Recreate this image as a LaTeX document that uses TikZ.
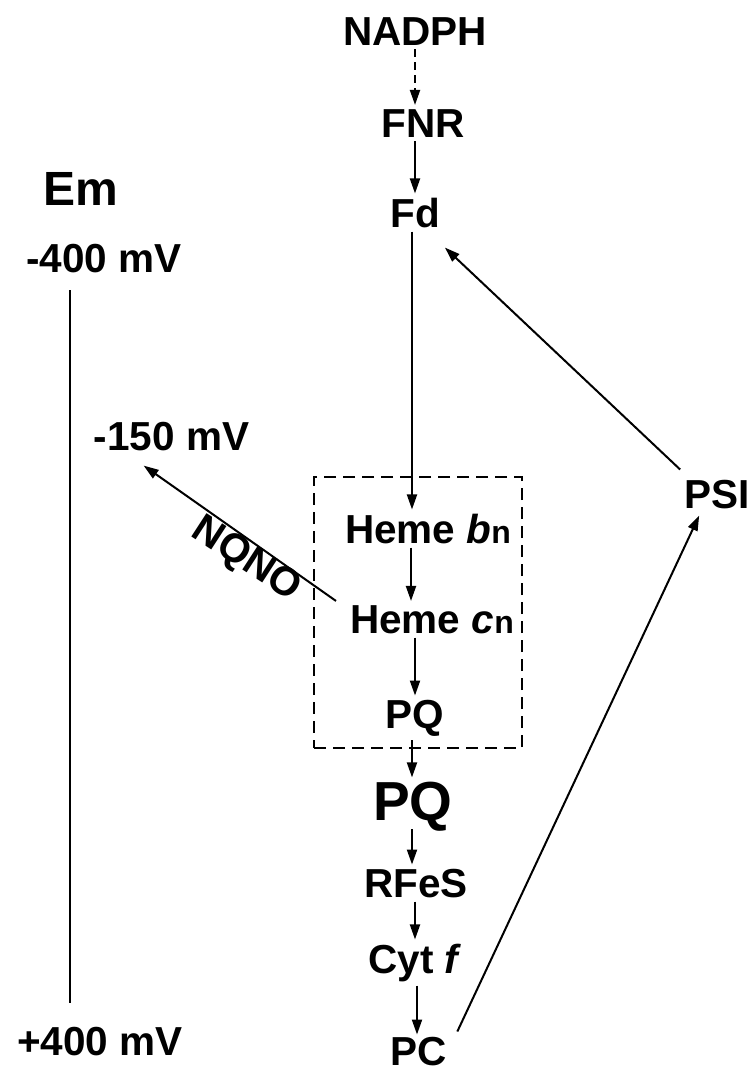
\documentclass[tikz,border=0pt]{standalone}
\usepackage{fontspec}
\setmainfont{Liberation Sans}
\usetikzlibrary{arrows.meta,calc}
\begin{document}
\begin{tikzpicture}[x=1pt,y=-1pt,
  lbl/.style={font=\fontsize{40.5}{40.5}\selectfont\bfseries, inner xsep=0pt, inner ysep=4pt, anchor=base},
  arr/.style={line width=2pt, -{Triangle[length=15pt,width=10pt]}},
  axisline/.style={line width=1.7pt},
  dashbox/.style={draw, line width=1.9pt, dash pattern=on 12pt off 7pt, inner sep=0pt}
  ]
\useasboundingbox (0,0) rectangle (751,1072);
% labels
\node[lbl] (NADPH) at (415,45) {NADPH};
\node[lbl] (FNR) at (423,137) {FNR};
\node[lbl] (Fd) at (415,227) {Fd};
\node[lbl, font=\fontsize{48}{48}\selectfont\bfseries, anchor=base west] (Em) at (43,205) {Em};
\node[lbl] (m400) at (104,272) {-400 mV};
\node[lbl] (m150) at (171.5,450) {-150 mV};
\node[lbl] (p400) at (100,1055) {+400 mV};
\node[lbl] (Hb) at (428,543) {Heme \textit{b}{\fontsize{32}{32}\selectfont n}};
\node[lbl] (Hc) at (432,633) {Heme \textit{c}{\fontsize{32}{32}\selectfont n}};
\node[lbl] (PQs) at (415,728) {PQ};
\node[lbl, font=\fontsize{55}{55}\selectfont\bfseries] (PQ) at (413,820) {PQ};
\node[lbl] (RFeS) at (416,897) {RFeS};
\node[lbl] (Cyt) at (415,973) {Cyt \textit{f}};
\node[lbl, inner ysep=2pt] (PC) at (419,1065) {PC};
\node[lbl] (PSI) at (717,508) {PSI};
\node[lbl, anchor=center, rotate=-33] (NQNO) at (246,560) {NQNO};
% dashed box
\node[dashbox, minimum width=208pt, minimum height=271pt] (box) at (418,612.5) {};
% potential axis
\coordinate (axtop) at (70,290);
\coordinate (axbot) at (70,1003);
\draw[axisline] (axtop) -- (axbot);
% chain arrows
\draw[arr, dash pattern=on 8pt off 5pt] (NADPH.south) -- (NADPH.south |- FNR.north);
\draw[arr] ([xshift=-8pt]FNR.south) -- (Fd.north);
\draw[arr] ([xshift=-3pt]Fd.south) -- ([xshift=-3pt]Fd.south |- Hb.north);
\draw[arr] ([xshift=-17pt]Hb.south) -- ([xshift=-17pt]Hb.south |- Hc.north);
\draw[arr] (PQs.north |- Hc.south) -- (PQs.north);
\draw[arr] ([xshift=-3pt]PQs.south) -- ([xshift=-3pt]PQs.south |- PQ.north);
\draw[arr] ([xshift=-1pt,yshift=6pt]PQ.south) -- ([xshift=-1pt]PQ.south |- RFeS.north);
\draw[arr] (Cyt.north |- RFeS.south) -- (Cyt.north);
\draw[arr] ([xshift=2pt]Cyt.south) -- ([xshift=2pt]Cyt.south |- PC.north);
% diagonal arrows
\draw[arr] ($(PSI.north west)+(-4,-6)$) -- ($(Fd.south east)+(5,16)$);
\draw[arr] ($(PC.north east)+(10,-3)$) -- ($(PSI.south west)+(15,3)$);
\draw[arr] ($(Hc.north west)+(-14,0)$) -- ($(m150.south west)+(50,11)$);
\end{tikzpicture}
\end{document}
